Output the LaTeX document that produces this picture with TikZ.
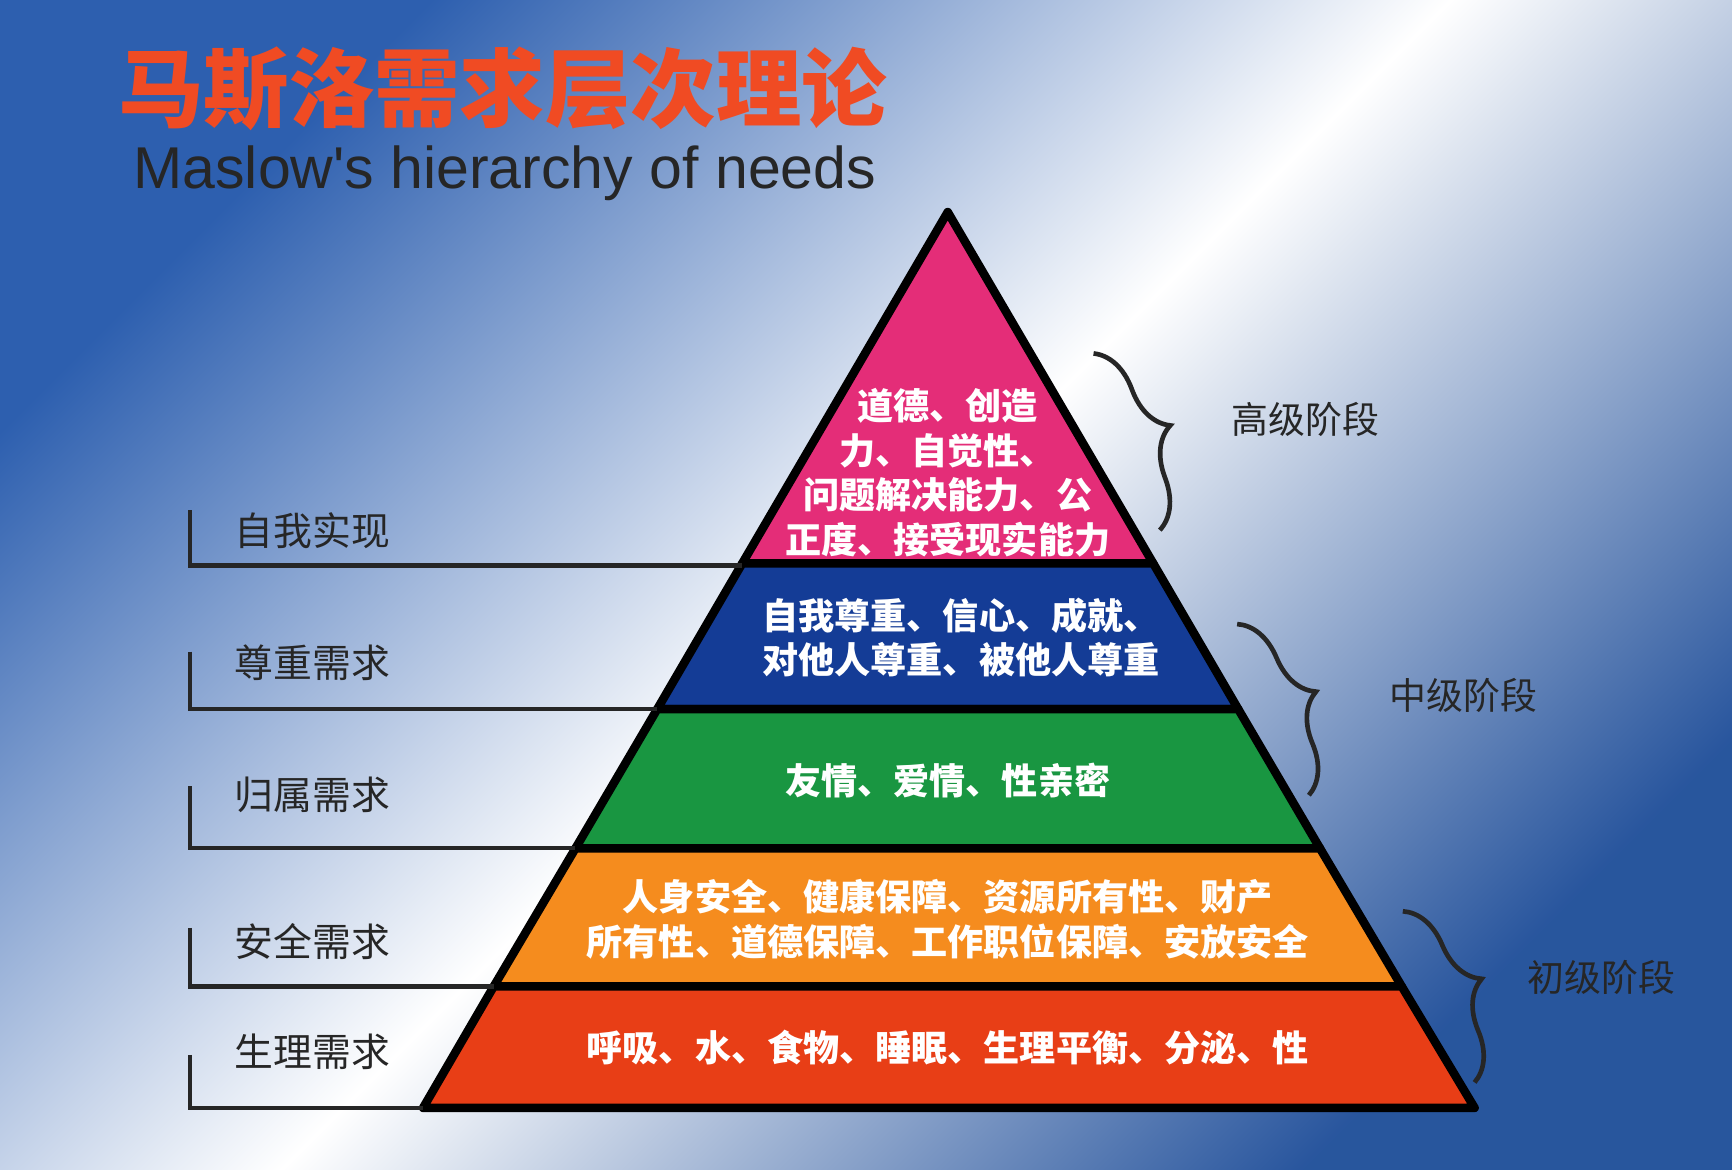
\documentclass[tikz,border=0pt]{standalone}
\usepackage{fontspec}
\setmainfont{Liberation Sans}
\newfontfamily\cjk{Noto Sans CJK SC}
\usetikzlibrary{decorations.pathreplacing}
\definecolor{bgblue}{RGB}{45,95,175}
\definecolor{cpink}{RGB}{228,45,120}
\definecolor{cblue}{RGB}{20,60,150}
\definecolor{cgreen}{RGB}{25,150,65}
\definecolor{corange}{RGB}{245,140,30}
\definecolor{cred}{RGB}{232,62,22}
\definecolor{ttl}{RGB}{240,75,35}
\tikzset{
 lay/.style={line width=2.2pt,line join=round},
 inner/.style={text=white,font=\cjk\bfseries\fontsize{9.3}{11.5}\selectfont,align=center},
 lab/.style={font=\cjk\fontsize{10}{11}\selectfont,text=black!85,anchor=west},
 lead/.style={line width=1.1pt,black!85},
 brc/.style={decorate,decoration={brace,amplitude=12pt},line width=1.2pt,black!85},
 stage/.style={font=\cjk\fontsize{9.5}{11}\selectfont,text=black!85}
}
\begin{document}
\begin{tikzpicture}[x=0.1mm,y=-0.1mm]
\useasboundingbox (0,0) rectangle (1568,1059);
\shade[left color=bgblue,right color=bgblue!90!black,middle color=white,shading angle=45] (0,0) rectangle (1568,1059);
% title
\node (t1) at (455,80) {\cjk\bfseries\fontsize{22}{24}\selectfont\color{ttl}马斯洛需求层次理论};
\node (t2) at (457,157) {\fontsize{15.2}{17}\selectfont\color{black!85}Maslow\textquotesingle s hierarchy of needs};
% pyramid
\filldraw[lay,fill=cpink] (858,192) -- (672,510) -- (1044,510) -- cycle;
\filldraw[lay,fill=cblue] (672,510) -- (595,642) -- (1121,642) -- (1044,510) -- cycle;
\filldraw[lay,fill=cgreen] (595,642) -- (521,768) -- (1195,768) -- (1121,642) -- cycle;
\filldraw[lay,fill=corange] (521,768) -- (447,893) -- (1269,893) -- (1195,768) -- cycle;
\filldraw[lay,fill=cred] (447,893) -- (383,1003) -- (1335,1003) -- (1269,893) -- cycle;
\node[inner] (p1) at (858,428) {道德、创造\\力、自觉性、\\问题解决能力、公\\正度、接受现实能力};
\node[inner] (p2) at (870,577) {自我尊重、信心、成就、\\对他人尊重、被他人尊重};
\node[inner] (p3) at (858,707) {友情、爱情、性亲密};
\node[inner] (p4) at (858,832) {人身安全、健康保障、资源所有性、财产\\所有性、道德保障、工作职位保障、安放安全};
\node[inner] (p5) at (858,948) {呼吸、水、食物、睡眠、生理平衡、分泌、性};
% left labels
\foreach \n/\ya/\yb/\xe in {l1/462/512/672, l2/590/642/595, l3/712/768/521, l4/840/893/447, l5/955/1003/383}{
  \coordinate (\n a) at (172,\ya);
  \coordinate (\n b) at (172,\yb);
  \coordinate (\n c) at (\xe,\yb);
  \draw[lead] (\n a) -- (\n b) -- (\n c);
}
\node[lab] (s1) at (200,480) {自我实现};
\node[lab] (s2) at (200,600) {尊重需求};
\node[lab] (s3) at (200,720) {归属需求};
\node[lab] (s4) at (200,852) {安全需求};
\node[lab] (s5) at (200,952) {生理需求};
% braces
\coordinate (b1a) at (990,320); \coordinate (b1b) at (1050,480);
\coordinate (b2a) at (1120,565); \coordinate (b2b) at (1185,720);
\coordinate (b3a) at (1270,825); \coordinate (b3b) at (1335,980);
\draw[brc] (b1a) -- (b1b);
\draw[brc] (b2a) -- (b2b);
\draw[brc] (b3a) -- (b3b);
\node[stage] (g1) at (1182,380) {高级阶段};
\node[stage] (g2) at (1325,630) {中级阶段};
\node[stage] (g3) at (1450,885) {初级阶段};
\end{tikzpicture}
\end{document}
